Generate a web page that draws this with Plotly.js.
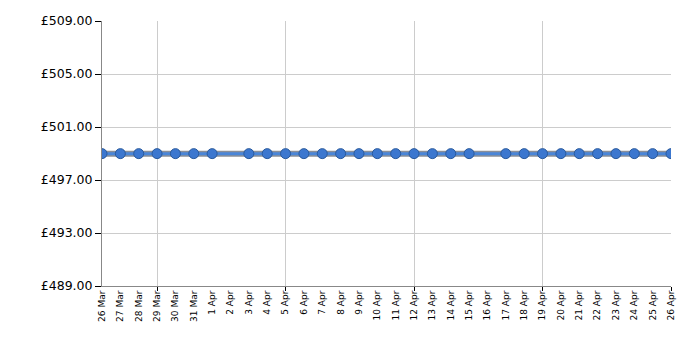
<!DOCTYPE html>
<html>
<head>
<meta charset="utf-8">
<script src="https://cdn.plot.ly/plotly-3.0.1.min.js"></script>
<style>html,body{margin:0;padding:0;background:#fff}#chart{width:700px;height:350px}</style>
</head>
<body>
<div id="chart"></div>
<script>
const dates = ["2021-03-26","2021-03-27","2021-03-28","2021-03-29","2021-03-30","2021-03-31","2021-04-01",
  "2021-04-03","2021-04-04","2021-04-05","2021-04-06","2021-04-07","2021-04-08","2021-04-09","2021-04-10",
  "2021-04-11","2021-04-12","2021-04-13","2021-04-14","2021-04-15","2021-04-17","2021-04-18","2021-04-19",
  "2021-04-20","2021-04-21","2021-04-22","2021-04-23","2021-04-24","2021-04-25","2021-04-26"];
const prices = [498.99,498.99,498.99,498.99,498.99,498.99,498.99,
  498.99,498.99,498.99,498.99,498.99,498.99,498.99,498.99,
  498.99,498.99,498.99,498.99,498.99,498.99,498.99,498.99,
  498.99,498.99,498.99,498.99,498.99,498.99,498.99];
const gridDates = ["2021-03-29","2021-04-05","2021-04-12","2021-04-19","2021-04-26"];
const yTicks = [489,493,497,501,505,509];
const yTickLabels = ["\u00a3489.00","\u00a3493.00","\u00a3497.00","\u00a3501.00","\u00a3505.00","\u00a3509.00"];
const xRange = ["2021-03-26","2021-04-26"];

const fam = "DejaVu Sans, Verdana, sans-serif";

const traces = [
  {x: dates, y: prices, type: "scatter", mode: "lines", line: {color: "#8a8f98", width: 6}, hoverinfo: "skip", showlegend: false},
  {x: dates, y: prices, type: "scatter", mode: "lines+markers", line: {color: "#4a86d8", width: 3},
   marker: {size: 10, color: "#3c77cf", line: {color: "#2a5a9c", width: 1}}, showlegend: false},
  {x: gridDates, y: gridDates.map(() => null), xaxis: "x2", type: "scatter", mode: "markers", showlegend: false, hoverinfo: "skip"}
];

const layout = {
  width: 700, height: 350,
  margin: {l: 102, r: 29, t: 21, b: 64},
  paper_bgcolor: "#fff", plot_bgcolor: "#fff",
  font: {family: fam, color: "#000"},
  showlegend: false,
  xaxis: {
    type: "date", range: xRange, tickmode: "linear", tick0: "2021-03-26", dtick: 86400000,
    tickformat: "%-d %b", tickangle: -90, tickfont: {size: 9, family: fam, color: "#000"},
    showgrid: false, zeroline: false, showline: true, linecolor: "#888", linewidth: 1, ticks: ""
  },
  xaxis2: {
    type: "date", range: xRange, overlaying: "x", anchor: "y", side: "bottom",
    tickmode: "array", tickvals: gridDates, showticklabels: false,
    showgrid: true, gridcolor: "#cccccc", gridwidth: 1,
    ticks: "outside", ticklen: 4, tickcolor: "#000", showline: false, zeroline: false
  },
  yaxis: {
    range: [489, 509], tickmode: "array", tickvals: yTicks, ticktext: yTickLabels,
    tickfont: {size: 12.5, family: fam, color: "#000"},
    showgrid: true, gridcolor: "#cccccc", zeroline: false,
    showline: true, linecolor: "#888", ticks: "outside", ticklen: 6, tickcolor: "#000"
  }
};

Plotly.newPlot("chart", traces, layout, {displayModeBar: false, staticPlot: true});
</script>
</body>
</html>
